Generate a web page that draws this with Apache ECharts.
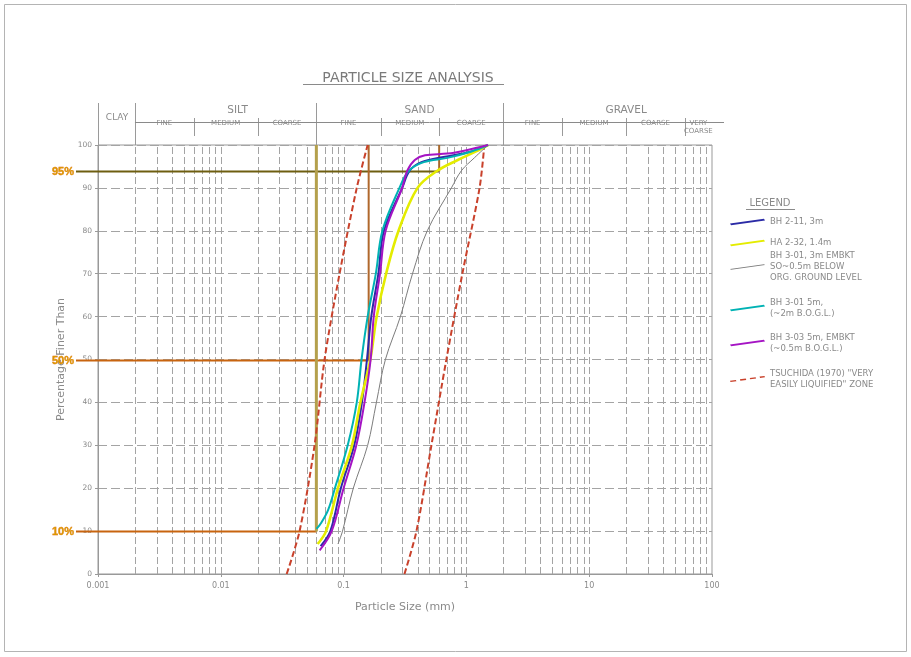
<!DOCTYPE html>
<html>
<head>
<meta charset="utf-8">
<script src="https://cdn.jsdelivr.net/npm/echarts@6/dist/echarts.min.js"></script>
<style>html,body{margin:0;padding:0;background:#fff;}#c{width:911px;height:657px;}</style>
</head>
<body>
<div id="c"></div>
<script>
// ---------- data ----------
const sizeTicks = ['0.001', '0.01', '0.1', '1', '10', '100'];
const pctTicks = [0, 10, 20, 30, 40, 50, 60, 70, 80, 90, 100];

const bh211 = [[0.065,6.5],[0.078,10],[0.095,20],[0.122,30],[0.141,40],[0.155,50],[0.168,60],[0.192,70],[0.213,80],[0.30,90],[0.345,94],[0.43,96],[0.65,97.2],[1.1,98.5],[1.5,100]];
const ha232 = [[0.0615,7],[0.072,10],[0.09,20],[0.117,30],[0.137,40],[0.165,50],[0.186,60],[0.222,70],[0.28,80],[0.40,90],[0.58,94],[0.85,96.5],[1.2,98.5],[1.5,100]];
const bh301a = [[0.09,7],[0.098,10],[0.12,20],[0.157,30],[0.185,40],[0.219,50],[0.29,60],[0.364,70],[0.48,80],[0.755,90],[0.91,94],[1.16,97],[1.5,100]];
const bh301b = [[0.0602,10.5],[0.066,12],[0.075,15],[0.085,20],[0.108,30],[0.128,40],[0.14,50],[0.157,60],[0.183,70],[0.207,80],[0.285,90],[0.34,94],[0.45,96],[0.7,97],[1.1,98.5],[1.5,100]];
const bh303 = [[0.0638,5.5],[0.08,10],[0.1,20],[0.127,30],[0.148,40],[0.166,50],[0.176,60],[0.198,70],[0.22,80],[0.30,90],[0.33,94],[0.38,96.5],[0.46,97.6],[0.7,98],[1.0,98.8],[1.5,100]];
const tsuchidaFine = [[0.0344,0],[0.0438,10],[0.058,30],[0.070,50],[0.0927,70],[0.128,90],[0.157,100]];
const tsuchidaCoarse = [[0.313,0],[0.392,10],[0.519,30],[0.687,50],[0.927,70],[1.28,90],[1.40,100]];

const seriesNames = [
  'BH 2-11, 3m',
  'HA 2-32, 1.4m',
  'BH 3-01, 3m EMBKT\nSO~0.5m BELOW\nORG. GROUND LEVEL',
  'BH 3-01 5m,\n(~2m B.O.G.L.)',
  'BH 3-03 5m, EMBKT\n(~0.5m B.O.G.L.)',
  'TSUCHIDA (1970) "VERY\nEASILY LIQUIFIED" ZONE'
];

const dPct = [94, 50, 10];
const dSize = [0.6, 0.16, 0.06];
const dLabels = ['95%', '50%', '10%'];

const classNames = ['CLAY', 'SILT', 'SAND', 'GRAVEL'];
const classLabelAt = [0.00143, 0.0137, 0.415, 20];
const classBounds = [0.001, 0.002, 0.06, 2];
const subNames = ['FINE','MEDIUM','COARSE','FINE','MEDIUM','COARSE','FINE','MEDIUM','COARSE','VERY\nCOARSE'];
const subBounds = [0.002, 0.006, 0.02, 0.06, 0.2, 0.6, 2, 6, 20, 60, 100];
const subDividers = [0.006, 0.02, 0.2, 0.6, 6, 20, 60];

// ---------- styles ----------
const FONT = '"DejaVu Sans", sans-serif';
const TXT = '#8a8a8a';
const GRIDC = '#a4a4a4';
const lineColors = ['#2b2ba6', '#e4ec00', '#7c7c7c', '#00b2b4', '#a514c4', '#c9412b'];
const lineWidths = [2, 2.6, 1, 2, 2, 2];
const hColors = ['#6e5e10', '#c8640f', '#c8640f'];
const vColors = ['#a8682a', '#b0682c', '#b4a04c'];
const vWidths = [2, 2, 3];
// slanted stroke icons like the hand-drawn legend samples
const ICON_SOLID = 'path://M0,5 L34,0.2 L35,1.8 L1,6.6 Z';
const ICON_THIN = 'path://M0,5.4 L34,0.6 L35,1.4 L1,6.2 Z';
const ICON_DASH = 'path://M0,5.6 L6,4.8 L6.5,6.2 L0.5,7 Z M10,4.2 L16,3.4 L16.5,4.8 L10.5,5.6 Z M20,2.8 L26,2 L26.5,3.4 L20.5,4.2 Z M30,1.4 L35,0.7 L35.5,2.1 L30.5,2.8 Z';
const legendIcons = [ICON_SOLID, ICON_SOLID, ICON_THIN, ICON_SOLID, ICON_SOLID, ICON_DASH];

// vertical grid positions (decades x 1..9)
const gridX = [];
for (let d = -3; d < 2; d++) for (let k = 1; k <= 9; k++) { const v = k * Math.pow(10, d); if (v > 0.001) gridX.push(v); }

function crisp(v) { return Math.round(v) + 0.5; }

const curveSets = [bh211, ha232, bh301a, bh301b, bh303];
const series = [];

// grid vertical dashed lines
series.push({
  type: 'custom', silent: true, z: 1,
  data: gridX.map(v => [v, 0]),
  renderItem(params, api) {
    const a = api.coord([api.value(0), 0]);
    const b = api.coord([api.value(0), 100]);
    return { type: 'line', shape: { x1: crisp(a[0]), y1: a[1], x2: crisp(b[0]), y2: b[1] },
      style: { stroke: GRIDC, lineWidth: 1, lineDash: [7, 3] } };
  }
});

// header: class bounds (full height)
series.push({
  type: 'custom', silent: true, clip: false, z: 2,
  data: classBounds.map(v => [v, 100]),
  renderItem(params, api) {
    const p = api.coord([api.value(0), 100]);
    return { type: 'line', shape: { x1: crisp(p[0]), y1: p[1] - 42, x2: crisp(p[0]), y2: p[1] },
      style: { stroke: '#9a9a9a', lineWidth: 1 } };
  }
});
// header: sub dividers
series.push({
  type: 'custom', silent: true, clip: false, z: 2,
  data: subDividers.map(v => [v, 100]),
  renderItem(params, api) {
    const p = api.coord([api.value(0), 100]);
    return { type: 'line', shape: { x1: crisp(p[0]), y1: p[1] - 27, x2: crisp(p[0]), y2: p[1] - 9 },
      style: { stroke: '#9a9a9a', lineWidth: 1 } };
  }
});
// header: horizontal line and sub labels
series.push({
  type: 'custom', silent: true, clip: false, z: 2,
  data: subNames.map((n, i) => [Math.sqrt(subBounds[i] * subBounds[i + 1]), 100]),
  renderItem(params, api) {
    const i = params.dataIndex;
    const p = api.coord([api.value(0), 100]);
    const children = [{ type: 'text', style: { text: subNames[i], x: p[0], y: p[1] - 22 + (i === 9 ? 4 : 0),
      align: 'center', verticalAlign: 'middle', fill: TXT, fontSize: 7, fontFamily: FONT, lineHeight: 8 } }];
    if (i === 0) {
      const a = api.coord([subBounds[0], 100]);
      const b = api.coord([subBounds[subBounds.length - 1], 100]);
      children.push({ type: 'line', shape: { x1: a[0], y1: crisp(p[1] - 23), x2: b[0] + 12, y2: crisp(p[1] - 23) },
        style: { stroke: '#8a8a8a', lineWidth: 1 } });
    }
    return { type: 'group', children };
  }
});
// header: class names
series.push({
  type: 'custom', silent: true, clip: false, z: 2,
  data: classNames.map((n, i) => [classLabelAt[i], 100]),
  renderItem(params, api) {
    const i = params.dataIndex;
    const p = api.coord([api.value(0), 100]);
    return { type: 'text', style: { text: classNames[i], x: p[0], y: p[1] - (i === 0 ? 27 : 35),
      align: 'center', verticalAlign: 'middle', fill: TXT, fontSize: i === 0 ? 9 : 10.5, fontFamily: FONT } };
  }
});

// measured curves
curveSets.forEach((d, i) => {
  series.push({
    type: 'line', name: seriesNames[i], data: d, symbol: 'none', smooth: 0.35, z: 5 + i,
    lineStyle: { color: lineColors[i], width: lineWidths[i] }, itemStyle: { color: lineColors[i] }
  });
});
// Tsuchida zone
[tsuchidaFine, tsuchidaCoarse].forEach(d => {
  series.push({
    type: 'line', name: seriesNames[5], data: d, symbol: 'none', smooth: 0.3, z: 4,
    lineStyle: { color: lineColors[5], width: lineWidths[5], type: [6, 3] }, itemStyle: { color: lineColors[5] }
  });
});

// D10 / D50 / D95 construction lines
series.push({
  type: 'custom', silent: true, clip: false, z: 3,
  data: dPct.map((p, i) => [dSize[i], p]),
  renderItem(params, api) {
    const i = params.dataIndex;
    const pt = api.coord([api.value(0), api.value(1)]);
    const top = api.coord([api.value(0), 100]);
    const left = api.coord([0.001, api.value(1)]);
    const y = crisp(pt[1]);
    return { type: 'group', children: [
      { type: 'line', shape: { x1: left[0] - 22, y1: y, x2: pt[0], y2: y }, style: { stroke: hColors[i], lineWidth: 2 } },
      { type: 'line', shape: { x1: pt[0], y1: y, x2: top[0], y2: top[1] }, style: { stroke: vColors[i], lineWidth: vWidths[i] } },
      { type: 'text', style: { text: dLabels[i], x: left[0] - 24, y: y, align: 'right', verticalAlign: 'middle',
        fill: '#dc9800', stroke: '#e06010', lineWidth: 0.4, fontSize: 11, fontWeight: 'bold', fontFamily: '"Liberation Sans", sans-serif' } }
    ] };
  }
});

// one legend per item so that the icon sits on the first text line
const legendCenters = [222, 243, 267, 308, 343, 379];
const LH = 11;
const legends = seriesNames.map((n, i) => {
  const lines = n.split('\n').length;
  return {
    orient: 'vertical', left: 730, top: legendCenters[i] - LH * (2 * lines - 1) / 2,
    padding: 0, itemWidth: 35, itemHeight: 8, selectedMode: false,
    data: [{ name: n, icon: legendIcons[i], textStyle: { padding: [LH * (lines - 1), 0, 0, 0] } }],
    textStyle: { color: TXT, fontSize: 8.5, fontFamily: FONT, lineHeight: LH }
  };
});

const chart = echarts.init(document.getElementById('c'), null, { renderer: 'canvas' });
chart.setOption({
  animation: false,
  backgroundColor: '#fff',
  textStyle: { fontFamily: FONT },
  title: {
    text: 'PARTICLE SIZE ANALYSIS', left: 403, top: 66, textAlign: 'center',
    textStyle: { color: '#7a7a7a', fontSize: 14, fontWeight: 'normal', fontFamily: FONT }
  },
  legend: legends,
  grid: { left: 98, right: 199, top: 145, bottom: 83, show: true, borderColor: '#999', borderWidth: 1 },
  xAxis: {
    type: 'log', logBase: 10, min: 0.001, max: 100,
    name: 'Particle Size (mm)', nameLocation: 'middle', nameGap: 28,
    nameTextStyle: { color: TXT, fontSize: 11, fontFamily: FONT },
    axisLine: { lineStyle: { color: '#999' } },
    axisTick: { show: true, length: 3, lineStyle: { color: '#999' } },
    axisLabel: { color: TXT, fontSize: 8, fontFamily: FONT, margin: 8,
      formatter: v => sizeTicks[Math.round(Math.log10(v)) + 3] },
    splitLine: { show: false }
  },
  yAxis: {
    type: 'value', min: 0, max: 100, interval: 10,
    name: 'Percentage Finer Than', nameLocation: 'middle', nameGap: 30, nameRotate: 90,
    nameTextStyle: { color: TXT, fontSize: 11, fontFamily: FONT },
    axisLine: { show: true, lineStyle: { color: '#999' } },
    axisTick: { show: true, length: 3, lineStyle: { color: '#999' } },
    axisLabel: { color: TXT, fontSize: 7.5, fontFamily: FONT, margin: 6,
      formatter: v => String(pctTicks[Math.round(v / 10)]) },
    splitLine: { show: true, lineStyle: { color: GRIDC, type: [9, 4] } }
  },
  graphic: [
    { type: 'rect', shape: { x: 4.5, y: 4.5, width: 902, height: 647 }, style: { fill: 'none', stroke: '#b4b4b4', lineWidth: 1 }, silent: true },
    { type: 'line', shape: { x1: 303, y1: 84.5, x2: 504, y2: 84.5 }, style: { stroke: '#8a8a8a', lineWidth: 1 }, silent: true },
    { type: 'text', x: 770, y: 203, style: { text: 'LEGEND', align: 'center', verticalAlign: 'middle', fill: TXT, fontSize: 10, fontFamily: FONT }, silent: true },
    { type: 'line', shape: { x1: 746, y1: 209.5, x2: 795, y2: 209.5 }, style: { stroke: '#8a8a8a', lineWidth: 1 }, silent: true }
  ],
  series
});
</script>
</body>
</html>
